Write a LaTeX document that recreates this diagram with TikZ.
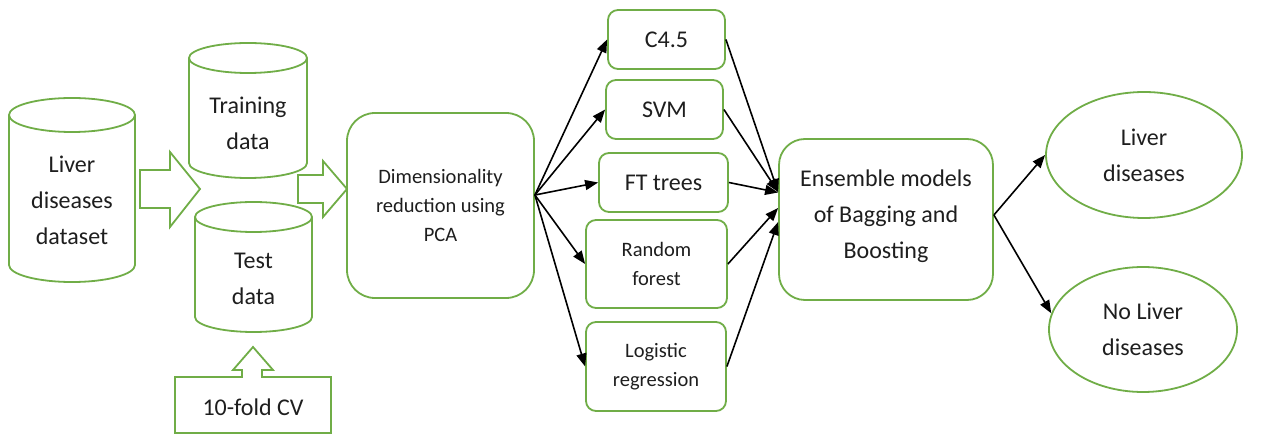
\documentclass[tikz,border=0pt]{standalone}
\usepackage{fontspec}
\setmainfont{Carlito}
\usetikzlibrary{arrows.meta,shapes.geometric}
\definecolor{gline}{RGB}{112,173,71}
\definecolor{txt}{RGB}{30,30,30}
\tikzset{
  gl/.style={draw=gline,line width=1.8pt},
  big/.style={font=\fontsize{24}{36}\selectfont,text=txt,align=center},
  small/.style={font=\fontsize{20.5}{29}\selectfont,text=txt,align=center},
  rbox/.style={gl,rounded corners=10pt,inner sep=0pt},
  conn/.style={draw=black,line width=1.6pt,-{Triangle[length=13pt,width=10pt]}},
  oval/.style={gl,ellipse,inner sep=0pt},
}
\newcommand\mycyl[5]{%
  \draw[gl] (#1-#4,#2+#5) -- (#1-#4,#3-#5)
    arc[start angle=180,end angle=360,x radius=#4pt,y radius=#5pt]
    -- (#1+#4,#2+#5);
  \draw[gl] (#1,#2+#5) ellipse[x radius=#4pt,y radius=#5pt];
}
\begin{document}
\begin{tikzpicture}[x=1pt,y=-1pt]
\useasboundingbox (0,0) rectangle (1281,435);
% cylinders
\mycyl{72}{98}{282}{63}{17}
\node[big] (liver) at (72,200) {Liver\\diseases\\dataset};
\mycyl{248}{43}{178}{59}{15}
\node[big] (train) at (248,123.5) {Training\\data};
\mycyl{253.5}{202}{332}{58.5}{15}
\node[big] (test) at (253.5,279) {Test\\data};
% block arrows
\draw[gl,line join=miter] (140,170) -- (170,170) -- (170,152) -- (200,189) -- (170,227) -- (170,208) -- (140,208) -- cycle;
\draw[gl,line join=miter] (298,175) -- (323,175) -- (323,161) -- (347,189) -- (323,217) -- (323,203) -- (298,203) -- cycle;
% 10-fold CV callout
\draw[gl,line join=miter] (175,433) -- (175,377) -- (242,377) -- (242,370) -- (233,370) -- (253,347) -- (273,370) -- (262,370) -- (262,377) -- (331,377) -- (331,433) -- cycle;
\node[big] (cv) at (253,407) {10-fold CV};
% PCA
\node[rbox,rounded corners=28pt,minimum width=187pt,minimum height=185pt,small] (pca) at (440.5,205.5) {Dimensionality\\reduction using\\PCA};
% models
\node[rbox,minimum width=117pt,minimum height=59pt,big] (c45) at (666.5,39.5) {C4.5};
\node[rbox,minimum width=117pt,minimum height=59pt,big] (svm) at (664.5,109.5) {SVM};
\node[rbox,minimum width=129pt,minimum height=59pt,big] (ft) at (663.5,182.5) {FT trees};
\node[rbox,minimum width=141pt,minimum height=88pt,small] (rf) at (656.5,264) {Random\\forest};
\node[rbox,minimum width=140pt,minimum height=89pt,small] (lr) at (656,366.5) {Logistic\\regression};
% ensemble
\node[rbox,rounded corners=26pt,minimum width=214pt,minimum height=161pt,big] (ens) at (886,219.5) {Ensemble models\\of Bagging and\\Boosting\\[-25pt]};
% outcomes
\node[oval,minimum width=196pt,minimum height=126pt,big] (lv) at (1144,155) {Liver\\diseases};
\node[oval,minimum width=188pt,minimum height=125pt,big] (nlv) at (1143,329.5) {No Liver\\diseases};
% connectors
\draw[conn] ([yshift=10.5pt]pca.east) -- (c45.west);
\draw[conn] ([yshift=10.5pt]pca.east) -- (svm.west);
\draw[conn] ([yshift=10.5pt]pca.east) -- (ft.west);
\draw[conn] ([yshift=10.5pt]pca.east) -- (rf.west);
\draw[conn] ([yshift=10.5pt]pca.east) -- (lr.west);
\draw[conn] (c45.east) -- ([yshift=27.5pt]ens.west);
\draw[conn] (svm.east) -- ([yshift=27.5pt]ens.west);
\draw[conn] (ft.east) -- ([yshift=27pt]ens.west);
\draw[conn] (rf.east) -- ([yshift=11.5pt]ens.west);
\draw[conn] (lr.east) -- ([yshift=-2.5pt]ens.west);
\draw[conn] ([yshift=4.5pt]ens.east) -- (lv.west);
\draw[conn] ([yshift=4.5pt]ens.east) -- (nlv.170);
\end{tikzpicture}
\end{document}
